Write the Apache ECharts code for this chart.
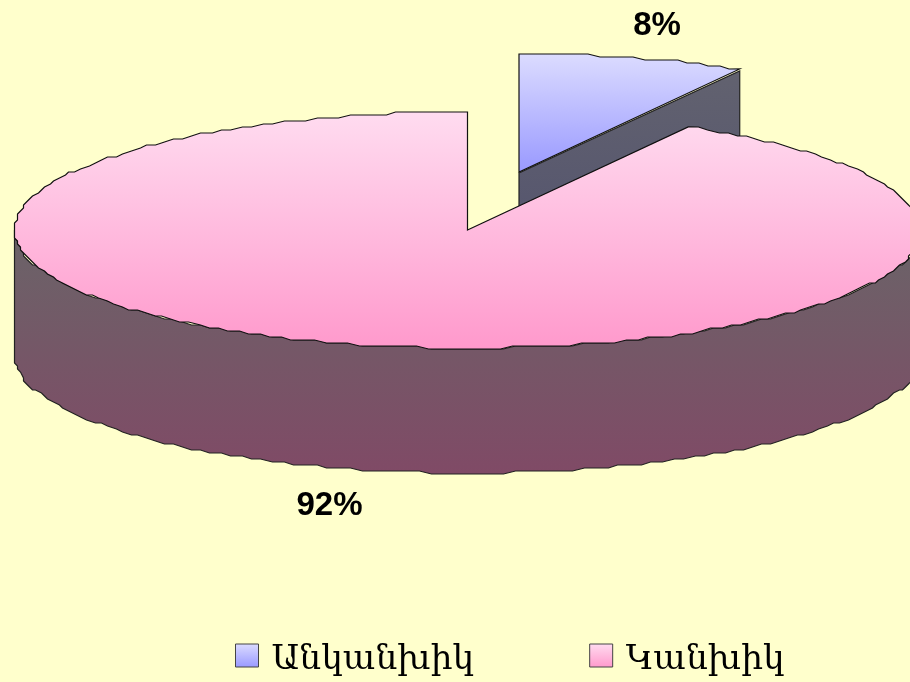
<!DOCTYPE html>
<html>
<head>
<meta charset="utf-8">
<style>
  html, body { margin: 0; padding: 0; background: #ffffcc; }
  #main { width: 910px; height: 682px; }
</style>
<script src="https://cdn.jsdelivr.net/npm/echarts@6/dist/echarts.min.js"></script>
</head>
<body>
<div id="main"></div>
<script>
// 数据
const categories = ['Անկանխիկ', 'Կանխիկ'];
const shares = [8.1, 91.9];

// 3D 饼图的几何参数
const cx = 467.5, cy = 230, rx = 453, ry = 118, depth = 125;
const explode = [[51.5, -58], [0, 0]];
const snap = 3; // 原图边缘有锯齿

const total = shares.reduce((a, b) => a + b, 0);

function grad(top, bottom) {
  return new echarts.graphic.LinearGradient(0, 0, 0, 1, [
    { offset: 0, color: top },
    { offset: 1, color: bottom }
  ]);
}
const q = v => Math.round(v / snap) * snap;

// 角度从 12 点钟方向顺时针算
function rim(x0, y0, a0, a1) {
  const pts = [];
  const n = Math.max(2, Math.ceil((a1 - a0) / (Math.PI / 120)));
  for (let i = 0; i <= n; i++) {
    const a = a0 + (a1 - a0) * i / n;
    const dx = rx * Math.sin(a);
    const dy = ry * (1 - Math.cos(a));
    // 两端不取整，切口才对得上
    if (i === 0 || i === n) {
      pts.push([x0 + dx, y0 - ry + dy]);
    } else {
      pts.push([x0 + q(dx), y0 - ry + q(dy)]);
    }
  }
  return pts;
}

function renderSlice(idx, faceColor, wallColor) {
  return function (params, api) {
    const before = shares.slice(0, idx).reduce((a, b) => a + b, 0);
    const a0 = before / total * Math.PI * 2;
    const a1 = a0 + api.value(0) / total * Math.PI * 2;
    const x0 = cx + explode[idx][0];
    const y0 = cy + explode[idx][1];
    const children = [];

    // 侧面：外弧朝前的部分
    const f0 = Math.max(a0, Math.PI / 2);
    const f1 = Math.min(a1, Math.PI * 1.5);
    if (f1 > f0) {
      const top = rim(x0, y0, f0, f1);
      const bottom = top.map(p => [p[0], p[1] + depth]).reverse();
      children.push({
        type: 'polygon',
        shape: { points: top.concat(bottom) },
        style: { fill: wallColor, stroke: '#222', lineWidth: 1.2 }
      });
    }
    // 侧面：切口朝前的部分
    if (a1 < Math.PI) {
      const ex = x0 + rx * Math.sin(a1);
      const ey = y0 - ry * Math.cos(a1) + 2;
      children.push({
        type: 'polygon',
        shape: { points: [[x0, y0 + 1], [ex, ey], [ex, ey + depth], [x0, y0 + depth]] },
        style: { fill: wallColor, stroke: '#222', lineWidth: 1.2 }
      });
    }
    // 顶面
    children.push({
      type: 'polygon',
      shape: { points: [[x0, y0]].concat(rim(x0, y0, a0, a1)) },
      style: { fill: faceColor, stroke: '#111', lineWidth: 1.2 }
    });
    // 百分比标签
    const mid = (a0 + a1) / 2;
    const low = Math.cos(mid) < 0 ? depth + 5 : 0;
    children.push({
      type: 'text',
      style: {
        x: x0 + rx * Math.sin(mid) * 1.21,
        y: y0 - ry * Math.cos(mid) * 1.28 + low,
        text: Math.round(api.value(0) / total * 100) + '%',
        fill: '#000',
        font: 'bold 33px "Liberation Sans"',
        align: 'center',
        verticalAlign: 'middle'
      }
    });
    return { type: 'group', children: children };
  };
}

const blueFace = grad('#dcdcff', '#9999ff');
const pinkFace = grad('#ffdcf0', '#ff99cc');

const myChart = echarts.init(document.getElementById('main'), null, { renderer: 'canvas' });
myChart.setOption({
  backgroundColor: '#ffffcc',
  animation: false,
  legend: {
    left: 230,
    top: 638,
    icon: 'rect',
    itemWidth: 23,
    itemHeight: 23,
    itemGap: 115,
    formatter: '{t|{name}}',
    textStyle: {
      color: '#000',
      rich: {
        t: { fontFamily: 'DejaVu Serif', fontSize: 34.4, color: '#000', padding: [9, 0, 0, 8] }
      }
    },
    data: [
      { name: categories[0], itemStyle: { color: grad('#dcdcff', '#9999ff'), borderColor: '#444', borderWidth: 1 } },
      { name: categories[1], itemStyle: { color: grad('#ffdcf0', '#ff99cc'), borderColor: '#444', borderWidth: 1 } }
    ]
  },
  series: [
    {
      type: 'custom',
      name: categories[0],
      coordinateSystem: 'none',
      renderItem: renderSlice(0, blueFace, grad('#62626f', '#50506e')),
      data: [[shares[0]]],
      z: 1
    },
    {
      type: 'custom',
      name: categories[1],
      coordinateSystem: 'none',
      renderItem: renderSlice(1, pinkFace, grad('#6a6468', '#804a66')),
      data: [[shares[1]]],
      z: 2
    }
  ]
});
</script>
</body>
</html>
